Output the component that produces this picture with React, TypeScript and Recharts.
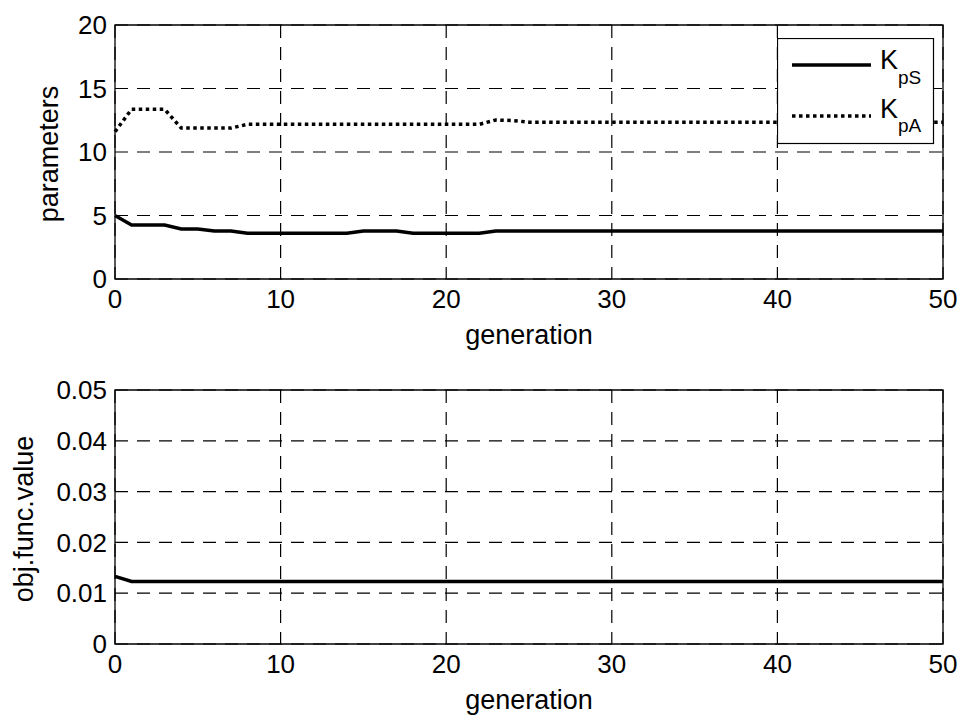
import {
  LineChart,
  Line,
  XAxis,
  YAxis,
  CartesianGrid,
  ReferenceArea,
  Legend,
} from "recharts";

const FONT = "'Liberation Sans', Arial, sans-serif";

// generation index 0..50
const generations = [
  0, 1, 2, 3, 4, 5, 6, 7, 8, 9, 10, 11, 12, 13, 14, 15, 16, 17, 18, 19, 20, 21, 22, 23, 24, 25,
  26, 27, 28, 29, 30, 31, 32, 33, 34, 35, 36, 37, 38, 39, 40, 41, 42, 43, 44, 45, 46, 47, 48, 49, 50,
];

const kpS = [
  5.0, 4.25, 4.25, 4.25, 3.94, 3.94, 3.78, 3.78, 3.6, 3.6, 3.6, 3.6, 3.6, 3.6, 3.6, 3.78, 3.78,
  3.78, 3.6, 3.6, 3.6, 3.6, 3.6, 3.78, 3.78, 3.78, 3.78, 3.78, 3.78, 3.78, 3.78, 3.78, 3.78, 3.78,
  3.78, 3.78, 3.78, 3.78, 3.78, 3.78, 3.78, 3.78, 3.78, 3.78, 3.78, 3.78, 3.78, 3.78, 3.78, 3.78,
  3.78,
];

const kpA = [
  11.6, 13.36, 13.36, 13.36, 11.88, 11.88, 11.88, 11.88, 12.18, 12.18, 12.18, 12.18, 12.18, 12.18,
  12.18, 12.18, 12.18, 12.18, 12.18, 12.18, 12.18, 12.18, 12.18, 12.52, 12.48, 12.35, 12.35, 12.35,
  12.35, 12.35, 12.35, 12.35, 12.35, 12.35, 12.35, 12.35, 12.35, 12.35, 12.35, 12.35, 12.35, 12.35,
  12.35, 12.35, 12.35, 12.35, 12.35, 12.35, 12.35, 12.35, 12.35,
];

const objValue = [
  0.0133, 0.0123, 0.0123, 0.0123, 0.0123, 0.0123, 0.0123, 0.0123, 0.0123, 0.0123, 0.0123, 0.0123,
  0.0123, 0.0123, 0.0123, 0.0123, 0.0123, 0.0123, 0.0123, 0.0123, 0.0123, 0.0123, 0.0123, 0.0123,
  0.0123, 0.0123, 0.0123, 0.0123, 0.0123, 0.0123, 0.0123, 0.0123, 0.0123, 0.0123, 0.0123, 0.0123,
  0.0123, 0.0123, 0.0123, 0.0123, 0.0123, 0.0123, 0.0123, 0.0123, 0.0123, 0.0123, 0.0123, 0.0123,
  0.0123, 0.0123, 0.0123,
];

const xTicks = [0, 10, 20, 30, 40, 50];
const paramTicks = [0, 5, 10, 15, 20];
const objTicks = [0, 0.01, 0.02, 0.03, 0.04, 0.05];

const paramData = generations.map((g, i) => ({ gen: g, kpS: kpS[i], kpA: kpA[i] }));
const objData = generations.map((g, i) => ({ gen: g, obj: objValue[i] }));

const tickStyle = { fill: "#000", fontSize: 26, fontFamily: FONT };
const gridDash = "13 9";

function XTitle(props: any) {
  const vb = props.viewBox || {};
  return (
    <text
      x={vb.x + vb.width / 2}
      y={vb.y + 65}
      textAnchor="middle"
      fontSize={27}
      fontFamily={FONT}
      fill="#000"
    >
      generation
    </text>
  );
}

function YTitle(props: any) {
  const { viewBox, text, baseX } = props;
  const cy = viewBox.y + viewBox.height / 2 + 2;
  return (
    <text
      x={baseX}
      y={cy}
      transform={`rotate(-90 ${baseX} ${cy})`}
      textAnchor="middle"
      fontSize={27}
      fontFamily={FONT}
      fill="#000"
    >
      {text}
    </text>
  );
}

function LegendBox() {
  return (
    <svg width={158} height={107} style={{ display: "block" }}>
      <rect x={0.5} y={0.5} width={156} height={105} fill="#fff" stroke="#000" strokeWidth={1.2} />
      <line x1={15} x2={94} y1={27} y2={27} stroke="#000" strokeWidth={3.5} />
      <line x1={15} x2={94} y1={78} y2={78} stroke="#000" strokeWidth={3.5} strokeDasharray="3.5 3.5" />
      <text x={103} y={31} fontSize={27} fontFamily={FONT} fill="#000">
        K
        <tspan fontSize={19} dy={15}>pS</tspan>
      </text>
      <text x={103} y={80} fontSize={27} fontFamily={FONT} fill="#000">
        K
        <tspan fontSize={19} dy={14}>pA</tspan>
      </text>
    </svg>
  );
}

export default function App() {
  return (
    <div
      style={{
        position: "absolute",
        left: 0,
        top: 0,
        width: 965,
        height: 719,
        background: "#fff",
        fontFamily: FONT,
      }}
    >
      <LineChart
        width={965}
        height={360}
        data={paramData}
        margin={{ top: 25, right: 22, left: 55, bottom: 21 }}
      >
        <CartesianGrid stroke="#000" strokeWidth={1.2} strokeDasharray={gridDash} />
        <XAxis
          dataKey="gen"
          type="number"
          domain={[0, 50]}
          ticks={xTicks}
          interval={0}
          axisLine={false}
          tickLine={false}
          tick={tickStyle}
          tickMargin={5}
          height={60}
          label={<XTitle />}
        />
        <YAxis
          type="number"
          domain={[0, 20]}
          ticks={paramTicks}
          interval={0}
          axisLine={false}
          tickLine={false}
          tick={tickStyle}
          width={60}
          label={<YTitle text="parameters" baseX={58} />}
        />
        <ReferenceArea x1={0} x2={50} y1={0} y2={20} fill="none" stroke="#000" strokeWidth={1.3} />
        <Line
          type="linear"
          dataKey="kpS"
          name="KpS"
          stroke="#000"
          strokeWidth={3.5}
          dot={false}
          isAnimationActive={false}
        />
        <Line
          type="linear"
          dataKey="kpA"
          name="KpA"
          stroke="#000"
          strokeWidth={3.5}
          strokeDasharray="3.5 3.5"
          dot={false}
          isAnimationActive={false}
        />
        <Legend
          layout="horizontal"
          verticalAlign="middle"
          align="center"
          content={() => <LegendBox />}
          wrapperStyle={{ left: 777, top: 38, width: 158, height: 107 }}
        />
      </LineChart>
      <LineChart
        width={965}
        height={359}
        data={objData}
        margin={{ top: 30, right: 22, left: 55, bottom: 15 }}
      >
        <CartesianGrid stroke="#000" strokeWidth={1.2} strokeDasharray={gridDash} />
        <XAxis
          dataKey="gen"
          type="number"
          domain={[0, 50]}
          ticks={xTicks}
          interval={0}
          axisLine={false}
          tickLine={false}
          tick={tickStyle}
          tickMargin={5}
          height={60}
          label={<XTitle />}
        />
        <YAxis
          type="number"
          domain={[0, 0.05]}
          ticks={objTicks}
          interval={0}
          axisLine={false}
          tickLine={false}
          tick={tickStyle}
          width={60}
          label={<YTitle text="obj.func.value" baseX={33} />}
        />
        <ReferenceArea x1={0} x2={50} y1={0} y2={0.05} fill="none" stroke="#000" strokeWidth={1.3} />
        <Line
          type="linear"
          dataKey="obj"
          stroke="#000"
          strokeWidth={3.5}
          dot={false}
          isAnimationActive={false}
        />
      </LineChart>
    </div>
  );
}
